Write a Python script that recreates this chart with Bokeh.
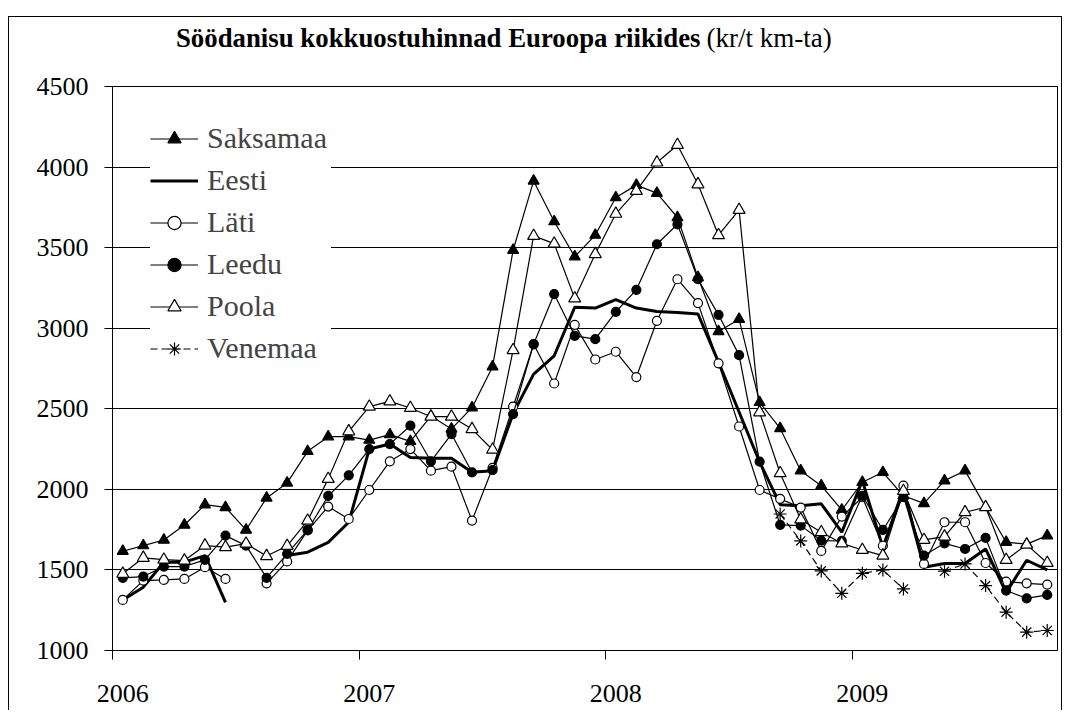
from bokeh.plotting import figure
from bokeh.layouts import column, row
from bokeh.models import FixedTicker, Label, Legend, LegendItem, Range1d, ColumnDataSource, Spacer
from bokeh.embed import file_html
from bokeh.resources import INLINE

N = float("nan")

# month index 0 = Jan 2006 ... 45 = Oct 2009
months = list(range(46))
year_labels = {0: "2006", 12: "2007", 24: "2008", 36: "2009"}

saksamaa = [1616, 1651, 1686, 1779, 1905, 1888, 1748, 1947, 2040, 2236, 2327, 2327,
            2306, 2340, 2298, 2455, 2375, 2507, 2761, 3484, 3914, 3662, 3444, 3578,
            3811, 3888, 3838, 3687, 3315, 2980, 3056, 2540, 2378, 2116, 2023, 1872,
            2044, 2106, 1960, 1913, 2054, 2116, 1890, 1672, 1660, 1713]
eesti = [1314, 1393, 1548, 1548, 1589, 1299, N, N, 1590, 1610, 1671, 1796,
         2250, 2281, 2198, 2193, 2193, 2106, 2116, 2470, 2715, 2829, 3130, 3125,
         3178, 3125, 3104, 3098, 3088, 2790, 2480, 2170, 1905, 1899, 1910, 1734,
         2054, 1640, 1992, 1517, 1540, 1540, 1630, 1360, 1560, 1500]
lati = [1314, 1434, 1438, 1444, 1517, 1444, N, 1417, 1553, 1745, 1893, 1816,
        1996, 2174, 2250, 2116, 2141, 1806, 2133, 2513, 2900, 2657, 3021, 2806,
        2854, 2697, 3046, 3304, 3156, 2782, 2390, 1996, 1941, 1887, 1618, 1831,
        1951, 1650, 2023, 1537, 1796, 1796, 1543, 1428, 1417, 1409]
leedu = [1451, 1459, 1521, 1521, 1562, 1713, 1651, 1451, 1600, 1748, 1959, 2087,
         2250, 2281, 2395, 2174, 2343, 2106, 2120, 2467, 2902, 3212, 2953, 2932,
         3102, 3238, 3521, 3645, 3304, 3083, 2833, 2172, 1780, 1775, 1682, 1680,
         1960, 1748, 1951, 1589, 1665, 1630, 1699, 1372, 1324, 1345]
poola = [1476, 1575, 1564, 1558, 1651, 1641, 1663, 1586, 1649, 1806, 2065, 2360,
         2513, 2546, 2505, 2451, 2451, 2374, 2246, 2864, 3573, 3525, 3185, 3460,
         3710, 3852, 4028, 4137, 3893, 3577, 3734, 2478, 2100, 1813, 1734, 1665,
         1624, 1589, 1990, 1686, 1707, 1858, 1889, 1562, 1657, 1543]
venemaa = [N] * 32 + [1847, 1680, 1494, 1355,
                      1479, 1500, 1382, N, 1492, 1537, 1403, 1238, 1114, 1124]

FONT = "Liberation Serif"
W = 1052
LEFT, RIGHT = 103, 4

# ---- title strip ----
t = figure(width=W, height=52, output_backend="svg", toolbar_location=None,
           x_range=Range1d(112, 1057), y_range=Range1d(0, 52),
           x_axis_type=None, y_axis_type=None,
           min_border_left=LEFT, min_border_right=RIGHT,
           min_border_top=0, min_border_bottom=0)
t.grid.visible = False
t.outline_line_color = None
t.background_fill_color = None
t.border_fill_color = None
t.add_layout(Label(x=700, y=32, text="Söödanisu kokkuostuhinnad Euroopa riikides",
                   text_align="right", text_baseline="alphabetic",
                   text_font=FONT, text_font_style="bold", text_font_size="26.8px",
                   text_color="black"))
t.add_layout(Label(x=706, y=32, text="(kr/t km-ta)",
                   text_align="left", text_baseline="alphabetic",
                   text_font=FONT, text_font_size="27px", text_color="black"))

# ---- main chart ----
p = figure(width=W, height=641, output_backend="svg", toolbar_location=None,
           x_range=Range1d(-0.5, 45.5), y_range=Range1d(1000, 4500),
           min_border_left=LEFT, min_border_right=RIGHT, min_border_top=17, min_border_bottom=60)
p.background_fill_color = "white"
p.border_fill_color = None
p.outline_line_color = "black"
p.outline_line_width = 1

p.xgrid.visible = False
p.ygrid.grid_line_color = "black"
p.ygrid.grid_line_width = 1
p.ygrid.ticker = FixedTicker(ticks=list(range(1000, 4501, 500)))

p.yaxis.ticker = FixedTicker(ticks=list(range(1000, 4501, 500)))
p.yaxis.major_tick_out = 8
p.yaxis.major_tick_in = 0
p.yaxis.minor_tick_line_color = None
p.yaxis.axis_line_color = "black"
p.yaxis.major_tick_line_color = "black"
p.yaxis.major_label_text_font = FONT
p.yaxis.major_label_text_font_size = "26px"
p.yaxis.major_label_text_color = "black"
p.yaxis.major_label_standoff = 16

p.xaxis.ticker = FixedTicker(ticks=[0, 12, 24, 36], minor_ticks=[-0.5, 11.5, 23.5, 35.5])
p.xaxis.major_label_overrides = year_labels
p.xaxis.major_tick_line_color = None
p.xaxis.major_tick_out = 0
p.xaxis.major_tick_in = 0
p.xaxis.minor_tick_out = 9
p.xaxis.minor_tick_in = 0
p.xaxis.minor_tick_line_color = "black"
p.xaxis.axis_line_color = "black"
p.xaxis.major_label_text_font = FONT
p.xaxis.major_label_text_font_size = "26px"
p.xaxis.major_label_text_color = "black"
p.xaxis.major_label_standoff = 25

series = [
    ("Saksamaa", saksamaa, dict(marker="triangle", size=11, fill_color="black"), 1.2, "solid"),
    ("Eesti", eesti, None, 3, "solid"),
    ("Läti", lati, dict(marker="circle", size=9, fill_color="white"), 1.2, "solid"),
    ("Leedu", leedu, dict(marker="circle", size=9, fill_color="black"), 1.2, "solid"),
    ("Poola", poola, dict(marker="triangle", size=12, fill_color="white"), 1.2, "solid"),
    ("Venemaa", venemaa, dict(marker="asterisk", size=13, fill_color="black"), 1.2, "7 4"),
]

items = []
for name, vals, mk, lw, dash in series:
    src = ColumnDataSource(dict(x=months, y=vals))
    rs = [p.line("x", "y", source=src, line_color="black", line_width=lw, line_dash=dash)]
    if mk is not None:
        rs.append(p.scatter("x", "y", source=src, marker=mk["marker"], size=mk["size"],
                            fill_color=mk["fill_color"], line_color="black", line_width=1.2))
    items.append(LegendItem(label=name, renderers=rs))

legend = Legend(items=items, location=(38, 285), padding=10,
                spacing=8, glyph_width=48, glyph_height=33, label_height=33,
                label_width=124, label_standoff=9,
                label_text_font=FONT, label_text_font_size="30px",
                border_line_color=None, background_fill_color="white",
                background_fill_alpha=1.0)
p.add_layout(legend)

inner = column(t, p, spacing=0,
               styles={"border-top": "1px solid black", "border-left": "1px solid black",
                       "border-right": "1px solid black", "background-color": "white"})
root = column(Spacer(width=W, height=16), row(Spacer(width=8, height=10), inner, spacing=0),
              spacing=0)

open("out.html", "w").write(file_html(root, INLINE))
